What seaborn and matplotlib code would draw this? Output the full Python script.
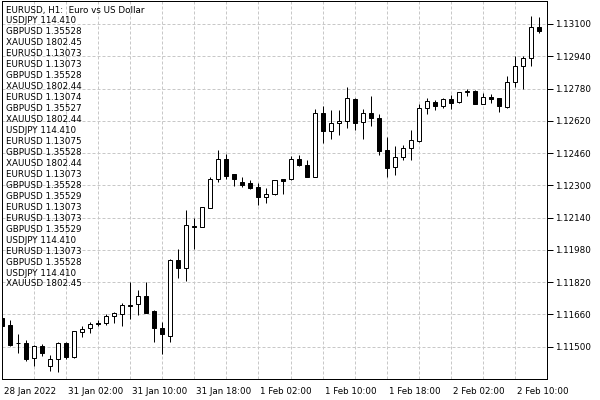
import matplotlib
matplotlib.use("Agg")
import matplotlib.pyplot as plt
import matplotlib.ticker as mticker
import matplotlib.transforms as mtransforms
import numpy as np
import seaborn as sns

# EURUSD H1 candles (one entry per hourly bar)
opens = [1.11642, 1.11608, 1.11518, 1.11518, 1.11442, 1.11504, 1.11404, 1.11438,
         1.11520, 1.11447, 1.11575, 1.11591, 1.11619, 1.11616, 1.11652, 1.11661,
         1.11707, 1.11710, 1.11751, 1.11677, 1.11591, 1.11555, 1.11930, 1.11889,
         1.12098, 1.12095, 1.12189, 1.12330, 1.12429, 1.12356, 1.12315, 1.12310,
         1.12290, 1.12241, 1.12256, 1.12330, 1.12330, 1.12429, 1.12399, 1.12343,
         1.12660, 1.12571, 1.12608, 1.12621, 1.12727, 1.12616, 1.12657, 1.12632,
         1.12474, 1.12390, 1.12442, 1.12484, 1.12520, 1.12682, 1.12712, 1.12695,
         1.12727, 1.12711, 1.12761, 1.12770, 1.12702, 1.12740, 1.12732, 1.12688,
         1.12811, 1.12893, 1.12930, 1.13084]
highs = [1.11647, 1.11632, 1.11563, 1.11533, 1.11508, 1.11513, 1.11459, 1.11525,
         1.11525, 1.11580, 1.11603, 1.11624, 1.11632, 1.11662, 1.11674, 1.11715,
         1.11819, 1.11781, 1.11819, 1.11682, 1.11624, 1.11935, 1.11984, 1.12178,
         1.12137, 1.12193, 1.12343, 1.12475, 1.12455, 1.12356, 1.12340, 1.12327,
         1.12310, 1.12285, 1.12328, 1.12333, 1.12446, 1.12450, 1.12426, 1.12677,
         1.12693, 1.12674, 1.12674, 1.12789, 1.12732, 1.12677, 1.12743, 1.12654,
         1.12538, 1.12495, 1.12500, 1.12574, 1.12702, 1.12732, 1.12723, 1.12735,
         1.12748, 1.12765, 1.12776, 1.12773, 1.12756, 1.12753, 1.12733, 1.12841,
         1.12941, 1.12941, 1.13140, 1.13133]
lows = [1.11598, 1.11504, 1.11471, 1.11429, 1.11404, 1.11456, 1.11381, 1.11376,
        1.11439, 1.11444, 1.11548, 1.11569, 1.11603, 1.11606, 1.11616, 1.11604,
        1.11636, 1.11657, 1.11667, 1.11525, 1.11462, 1.11522, 1.11839, 1.11827,
        1.11984, 1.12092, 1.12186, 1.12318, 1.12330, 1.12298, 1.12293, 1.12282,
        1.12203, 1.12214, 1.12254, 1.12256, 1.12328, 1.12396, 1.12340, 1.12341,
        1.12512, 1.12528, 1.12550, 1.12583, 1.12574, 1.12528, 1.12594, 1.12450,
        1.12343, 1.12351, 1.12426, 1.12426, 1.12517, 1.12654, 1.12676, 1.12685,
        1.12681, 1.12707, 1.12743, 1.12701, 1.12701, 1.12707, 1.12665, 1.12682,
        1.12789, 1.12778, 1.12893, 1.13057]
closes = [1.11603, 1.11508, 1.11516, 1.11439, 1.11504, 1.11469, 1.11437, 1.11520,
          1.11448, 1.11578, 1.11590, 1.11613, 1.11613, 1.11652, 1.11669, 1.11707,
          1.11704, 1.11751, 1.11669, 1.11591, 1.11562, 1.11930, 1.11889, 1.12103,
          1.12096, 1.12191, 1.12330, 1.12429, 1.12348, 1.12330, 1.12302, 1.12288,
          1.12241, 1.12256, 1.12327, 1.12323, 1.12429, 1.12399, 1.12343, 1.12660,
          1.12571, 1.12608, 1.12618, 1.12732, 1.12611, 1.12657, 1.12632, 1.12472,
          1.12388, 1.12442, 1.12484, 1.12525, 1.12682, 1.12718, 1.12695, 1.12727,
          1.12710, 1.12761, 1.12770, 1.12702, 1.12740, 1.12727, 1.12691, 1.12810,
          1.12893, 1.12930, 1.13084, 1.13067]

time_labels = ["28 Jan 2022", "31 Jan 02:00", "31 Jan 10:00", "31 Jan 18:00",
               "1 Feb 02:00", "1 Feb 10:00", "1 Feb 18:00", "2 Feb 02:00",
               "2 Feb 10:00"]
price_ticks = [1.11500, 1.11660, 1.11820, 1.11980, 1.12140, 1.12300,
               1.12460, 1.12620, 1.12780, 1.12940, 1.13100]

chart_title = "EURUSD, H1:  Euro vs US Dollar"
quote_symbols = ["USDJPY", "GBPUSD", "XAUUSD", "EURUSD", "EURUSD", "GBPUSD",
                 "XAUUSD", "EURUSD", "GBPUSD", "XAUUSD", "USDJPY", "EURUSD",
                 "GBPUSD", "XAUUSD", "EURUSD", "GBPUSD", "GBPUSD", "EURUSD",
                 "EURUSD", "GBPUSD", "USDJPY", "EURUSD", "GBPUSD", "USDJPY",
                 "XAUUSD"]
quote_prices = ["114.410", "1.35528", "1802.45", "1.13073", "1.13073", "1.35528",
                "1802.44", "1.13074", "1.35527", "1802.44", "114.410", "1.13075",
                "1.35528", "1802.44", "1.13073", "1.35528", "1.35529", "1.13073",
                "1.13073", "1.35529", "114.410", "1.13073", "1.35528", "114.410",
                "1802.45"]

sns.set_theme(style="white")
plt.rcParams['font.family'] = ['DejaVu Sans']
FS = 6.3
PX = 0.72  # one pixel in points at 100 dpi

fig = plt.figure(figsize=(6, 4), dpi=100)
ax = fig.add_axes([2 / 600, 21 / 400, 545 / 600, 378 / 400])

o = np.array(opens)
c = np.array(closes)
x = np.arange(len(o))
bull = c >= o

# wicks then bodies
ax.vlines(x, lows, highs, color="black", linewidth=PX, zorder=3)
body_h = np.maximum(np.abs(c - o), 0.000015)
ax.bar(x, body_h, width=0.5, bottom=np.minimum(o, c),
       color=np.where(bull, "white", "black"), edgecolor="black",
       linewidth=PX, zorder=4)

ax.set_xlim(-0.06, 68.06)
ax.set_ylim(1.11340, 1.13214)

# axes / ticks
ax.yaxis.tick_right()
ax.set_yticks(price_ticks)
ax.yaxis.set_major_formatter(mticker.FormatStrFormatter("%.5f"))
ax.set_xticks(np.arange(0, 8 * len(time_labels), 8))
ax.set_xticklabels(time_labels)
ax.set_xticks(np.arange(4, 68, 8), minor=True)
ax.tick_params(axis="both", which="major", direction="out", length=4,
               width=PX, color="black", labelsize=FS, labelcolor="black", pad=1.5)
ax.tick_params(axis="x", which="minor", length=0)
shift = mtransforms.ScaledTranslation(2 / 100, 0, fig.dpi_scale_trans)
for lbl in ax.get_xticklabels():
    lbl.set_horizontalalignment("left")
    lbl.set_transform(lbl.get_transform() + shift)

ax.grid(True, which="both", axis="x", color="#c8c8c8", linewidth=PX,
        linestyle=(0, (3, 2)), zorder=0)
ax.grid(True, which="major", axis="y", color="#c8c8c8", linewidth=PX,
        linestyle=(0, (3, 2)), zorder=0)
for sp in ax.spines.values():
    sp.set_visible(True)
    sp.set_color("black")
    sp.set_linewidth(PX)
ax.set_facecolor("white")

# header and quote list in the top-left corner
lines = [chart_title] + [f"{s} {p}" for s, p in zip(quote_symbols, quote_prices)]
for j, txt in enumerate(lines):
    fig.text(6 / 600, 1 - (10 + 10.96 * j) / 400, txt, fontsize=FS,
             color="black", ha="left", va="center", zorder=10)

fig.savefig("out.png", dpi=100, facecolor="white")
